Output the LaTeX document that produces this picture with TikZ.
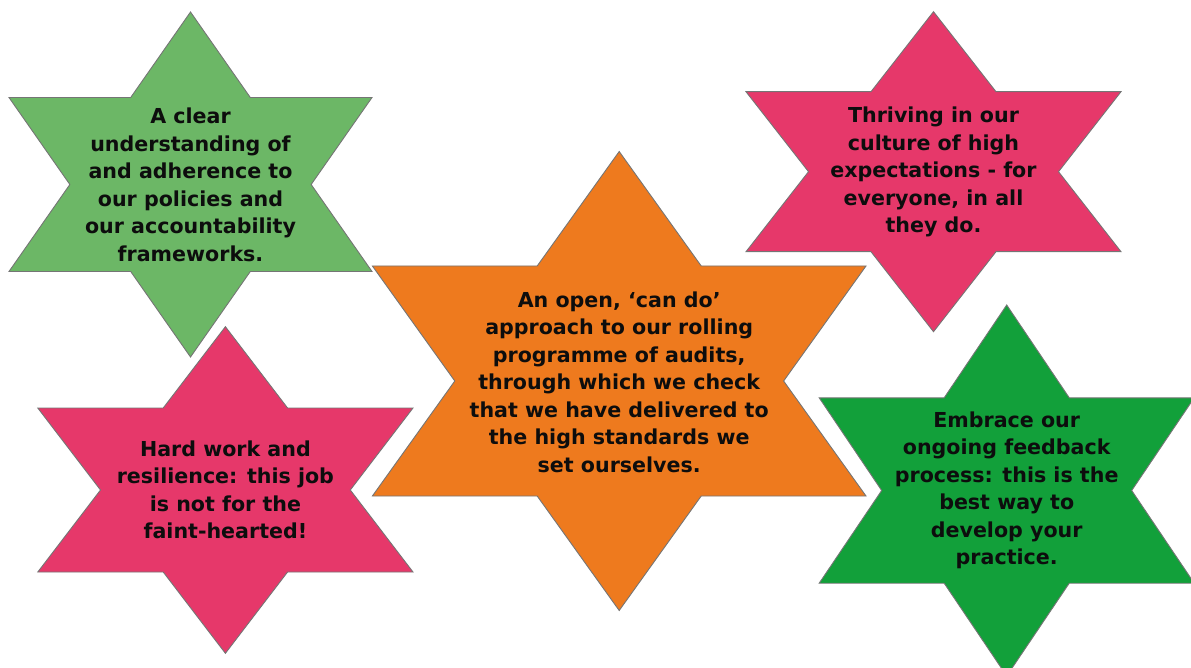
\documentclass[tikz,border=0pt]{standalone}
\usepackage{fontspec}
\setmainfont{DejaVu Sans}
\usepackage{tikz}

\definecolor{leafgreen}{HTML}{6CB766}
\definecolor{rosepink}{HTML}{E6386A}
\definecolor{tangerine}{HTML}{EE7A1E}
\definecolor{grassgreen}{HTML}{12A03A}
\definecolor{rimgray}{HTML}{757575}

% six-pointed star: centre x, centre y, half width, half height, side offset, colour
\newcommand{\hexstar}[6]{%
  \pgfmathsetmacro{\ia}{#3/(#4+#5)*(#4-#5)}%
  \pgfmathsetmacro{\ib}{#3/(#4+#5)*#4}%
  \filldraw[fill=#6, draw=rimgray, line width=0.9pt, line join=miter]
    (#1,#2-#4) -- ({#1+\ia},#2-#5) -- (#1+#3,#2-#5) -- ({#1+\ib},#2)
    -- (#1+#3,#2+#5) -- ({#1+\ia},#2+#5) -- (#1,#2+#4)
    -- ({#1-\ia},#2+#5) -- (#1-#3,#2+#5) -- ({#1-\ib},#2)
    -- (#1-#3,#2-#5) -- ({#1-\ia},#2-#5) -- cycle;
}

\tikzset{
  startext/.style={align=center, text=black!95, inner sep=0pt,
    font=\bfseries\fontsize{20.6}{27.5}\selectfont}
}

\begin{document}
\begin{tikzpicture}[x=1pt,y=-1pt]
    \useasboundingbox (0,0) rectangle (1191,668);
    \clip (0,0) rectangle (1191,668);

    % the five stars
    \hexstar{190.5}{184.5}{181.5}{172.5}{87}{leafgreen}
    \hexstar{225.4}{490}{187.6}{163.3}{82}{rosepink}
    \hexstar{619.2}{381}{246.8}{229.5}{115}{tangerine}
    \hexstar{933.5}{171.7}{187.5}{160}{80}{rosepink}
    \hexstar{1006.7}{490.5}{187.5}{185.5}{92.7}{grassgreen}

    % their texts
    \node[startext] (policies) at (190.5,185) {A clear\\understanding of\\and adherence to\\our policies and\\our accountability\\frameworks.};
    \node[startext] (hardwork) at (225.4,490) {Hard work and\\resilience: this job\\is not for the\\faint-hearted!};
    \node[startext] (audits) at (619.2,382) {An open, ‘can do’\\approach to our rolling\\programme of audits,\\through which we check\\that we have delivered to\\the high standards we\\set ourselves.};
    \node[startext] (culture) at (933.5,172) {Thriving in our\\culture of high\\expectations - for\\everyone, in all\\they do.};
    \node[startext] (feedback) at (1006.7,490.5) {Embrace our\\ongoing feedback\\process: this is the\\best way to\\develop your\\practice.};
\end{tikzpicture}
\end{document}
